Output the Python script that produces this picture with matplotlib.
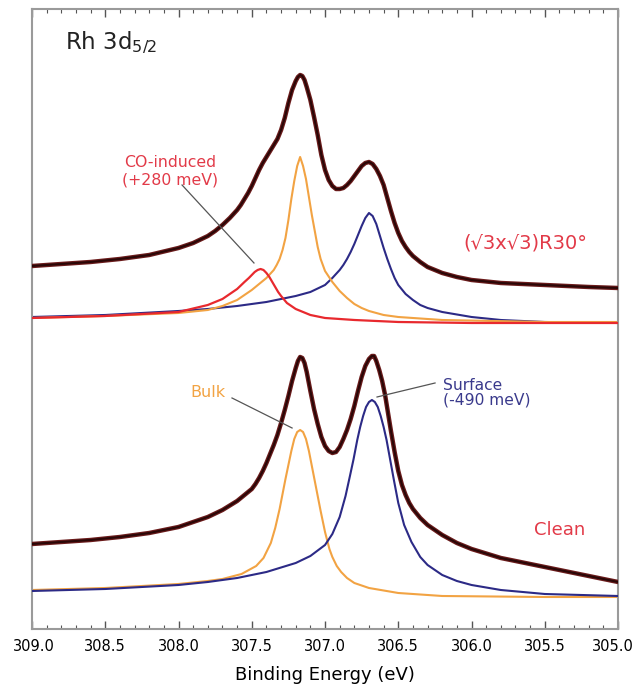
import matplotlib
matplotlib.use("Agg")
import matplotlib.pyplot as plt
import matplotlib.transforms as mtransforms
from matplotlib.ticker import MultipleLocator, FormatStrFormatter

# ---- (sqrt3 x sqrt3)R30 CO-covered surface: measured spectrum ----
co_total_E = [309.0, 308.8, 308.6, 308.4, 308.2, 308.0, 307.9, 307.8, 307.75, 307.7,
              307.65, 307.6, 307.575, 307.55, 307.525, 307.5, 307.475, 307.45, 307.425, 307.4,
              307.375, 307.35, 307.325, 307.3, 307.275, 307.25, 307.225, 307.2, 307.185, 307.17,
              307.155, 307.14, 307.125, 307.1, 307.075, 307.05, 307.025, 307.0, 306.975, 306.95,
              306.925, 306.9, 306.875, 306.85, 306.825, 306.8, 306.775, 306.75, 306.725, 306.7,
              306.675, 306.65, 306.625, 306.6, 306.575, 306.55, 306.525, 306.5, 306.475, 306.45,
              306.425, 306.4, 306.35, 306.3, 306.25, 306.2, 306.1, 306.0, 305.8, 305.5,
              305.2, 305.0]
co_total_I = [363, 365, 367, 370, 374, 381, 386, 393, 398, 404,
              411, 419, 424, 430, 436, 443, 451, 459, 466, 472,
              478, 484, 490, 499, 511, 526, 539, 548, 552, 554,
              553, 549, 542, 529, 512, 494, 474, 459, 449, 443,
              440, 440, 441, 444, 448, 453, 458, 463, 466, 467,
              465, 460, 453, 444, 431, 418, 406, 396, 388, 382,
              377, 373, 367, 362, 359, 356, 352, 349, 346, 344,
              342, 341]

# fitted components
co_bulk_E = [309.0, 308.5, 308.0, 307.8, 307.7, 307.6, 307.5, 307.45, 307.4, 307.35,
             307.33, 307.31, 307.29, 307.27, 307.25, 307.23, 307.21, 307.19, 307.17, 307.15,
             307.13, 307.11, 307.09, 307.07, 307.05, 307.03, 307.0, 306.95, 306.9, 306.85,
             306.8, 306.75, 306.7, 306.6, 306.5, 306.2, 305.5, 305.0]
co_bulk_I = [311, 313, 316, 319, 323, 329, 339, 345, 351, 359,
             364, 370, 379, 391, 409, 430, 448, 463, 472, 463,
             450, 432, 414, 398, 382, 370, 358, 347, 338, 331,
             325, 321, 318, 314, 312, 309, 307, 307]

co_surf_E = [309.0, 308.5, 308.0, 307.8, 307.6, 307.4, 307.2, 307.1, 307.0, 306.95,
             306.9, 306.875, 306.85, 306.825, 306.8, 306.775, 306.75, 306.725, 306.7, 306.675,
             306.65, 306.625, 306.6, 306.575, 306.55, 306.525, 306.5, 306.45, 306.4, 306.35,
             306.3, 306.2, 306.0, 305.8, 305.5, 305.0]
co_surf_I = [312, 314, 318, 320, 323, 327, 333, 337, 344, 351,
             359, 364, 370, 377, 385, 394, 403, 411, 416, 413,
             405, 393, 381, 370, 360, 351, 344, 335, 329, 324,
             321, 317, 312, 309, 307, 306]

co_ads_E = [309.0, 308.5, 308.0, 307.8, 307.7, 307.6, 307.55, 307.52, 307.5, 307.48,
            307.46, 307.44, 307.42, 307.4, 307.38, 307.36, 307.34, 307.32, 307.3, 307.26,
            307.2, 307.1, 307.0, 306.8, 306.5, 306.0, 305.0]
co_ads_I = [311, 313, 317, 324, 330, 340, 347, 351, 354, 357,
            359, 360, 359, 356, 352, 347, 342, 337, 333, 326,
            320, 314, 311, 309, 307, 306, 306]

# ---- clean Rh(111): measured spectrum ----
cl_total_E = [309.0, 308.8, 308.6, 308.4, 308.2, 308.0, 307.8, 307.7, 307.6, 307.55,
              307.5, 307.475, 307.45, 307.425, 307.4, 307.375, 307.35, 307.325, 307.3, 307.275,
              307.25, 307.225, 307.2, 307.185, 307.17, 307.155, 307.14, 307.125, 307.1, 307.075,
              307.05, 307.025, 307.0, 306.975, 306.95, 306.925, 306.9, 306.875, 306.85, 306.825,
              306.8, 306.775, 306.75, 306.725, 306.7, 306.68, 306.665, 306.65, 306.63, 306.61,
              306.59, 306.57, 306.55, 306.525, 306.5, 306.475, 306.45, 306.425, 306.4, 306.35,
              306.3, 306.25, 306.2, 306.1, 306.0, 305.8, 305.5, 305.2, 305.0]
cl_total_I = [85, 87, 89, 92, 96, 102, 112, 119, 128, 134,
              140, 145, 151, 158, 166, 175, 184, 194, 206, 219,
              233, 248, 261, 268, 272, 271, 266, 257, 238, 220,
              205, 192, 183, 178, 176, 177, 182, 190, 199, 210,
              223, 238, 252, 263, 270, 273, 273, 268, 259, 248,
              234, 216, 198, 177, 158, 144, 134, 126, 120, 111,
              104, 99, 94, 86, 80, 71, 62, 53, 47]

cl_bulk_E = [309.0, 308.5, 308.0, 307.8, 307.7, 307.57, 307.47, 307.42, 307.37, 307.34,
             307.31, 307.29, 307.27, 307.25, 307.23, 307.21, 307.19, 307.17, 307.15, 307.13,
             307.11, 307.09, 307.07, 307.05, 307.03, 307.0, 306.97, 306.95, 306.92, 306.89,
             306.85, 306.8, 306.7, 306.5, 306.2, 305.5, 305.0]
cl_bulk_I = [39, 41, 45, 48, 50, 55, 63, 71, 86, 101,
             120, 135, 150, 164, 178, 190, 197, 199, 197, 190,
             178, 163, 148, 133, 118, 97, 80, 72, 63, 57,
             51, 46, 41, 36, 33, 32, 32]

cl_surf_E = [309.0, 308.5, 308.0, 307.8, 307.6, 307.4, 307.2, 307.1, 307.0, 306.95,
             306.9, 306.86, 306.83, 306.805, 306.78, 306.76, 306.74, 306.72, 306.7, 306.68,
             306.66, 306.64, 306.62, 306.6, 306.58, 306.555, 306.53, 306.5, 306.46, 306.41,
             306.35, 306.3, 306.2, 306.1, 306.0, 305.8, 305.5, 305.0]
cl_surf_I = [38, 40, 44, 47, 51, 57, 66, 73, 84, 95,
             112, 133, 153, 170, 189, 202, 213, 222, 227, 229,
             227, 222, 213, 202, 189, 169, 149, 126, 104, 87,
             72, 64, 54, 48, 44, 39, 35, 33]

x_ticks = [309.0, 308.5, 308.0, 307.5, 307.0, 306.5, 306.0, 305.5, 305.0]

ORANGE = "#f2a343"
NAVY = "#2c2a86"
RED = "#e8292e"
TXT_RED = "#e23a48"
DATA_OUT = "#6a1b1b"
DATA_IN = "#2a0707"
SPINE = "#9a9a9a"

fig = plt.figure(figsize=(6.38, 6.86), dpi=100)
ax = fig.add_axes([0.0502, 0.0831, 0.9185, 0.9038])


def spectrum(E, I):
    ax.plot(E, I, color=DATA_OUT, lw=3.2, solid_joinstyle="round",
            solid_capstyle="round", zorder=4)
    ax.plot(E, I, color=DATA_IN, lw=1.5, solid_joinstyle="round", zorder=5)


# components first, data on top
ax.plot(co_surf_E, co_surf_I, color=NAVY, lw=1.5, zorder=2)
ax.plot(co_bulk_E, co_bulk_I, color=ORANGE, lw=1.5, zorder=2)
ax.plot(co_ads_E, co_ads_I, color=RED, lw=1.6, zorder=3)
spectrum(co_total_E, co_total_I)

ax.plot(cl_bulk_E, cl_bulk_I, color=ORANGE, lw=1.5, zorder=2)
ax.plot(cl_surf_E, cl_surf_I, color=NAVY, lw=1.5, zorder=3)
spectrum(cl_total_E, cl_total_I)

ax.set_xlim(309.0, 305.0)
ax.set_ylim(0, 620)
ax.set_xticks(x_ticks)
ax.xaxis.set_major_formatter(FormatStrFormatter("%.1f"))
ax.xaxis.set_minor_locator(MultipleLocator(0.1))
ax.set_yticks([])
ax.tick_params(axis="x", which="both", direction="in", top=True, bottom=True,
               color="#555555", labelsize=10.5, pad=7)
ax.tick_params(axis="x", which="major", length=6, width=1.0)
ax.tick_params(axis="x", which="minor", length=3, width=0.8)
for s in ax.spines.values():
    s.set_color(SPINE)
    s.set_linewidth(1.5)

# nudge the outermost tick labels so they stay inside the canvas
fig.canvas.draw()
labels = ax.get_xticklabels()
labels[-1].set_transform(labels[-1].get_transform()
                         + mtransforms.ScaledTranslation(-5 / 100, 0, fig.dpi_scale_trans))
labels[0].set_transform(labels[0].get_transform()
                        + mtransforms.ScaledTranslation(2 / 100, 0, fig.dpi_scale_trans))

ax.set_xlabel("Binding Energy (eV)", fontsize=13, labelpad=9)

# labels
ax.text(308.775, 586, r"Rh 3d$_{5/2}$", fontsize=16.5,
        ha="left", va="center", color="#222222")

ax.text(308.06, 458, "CO-induced\n(+280 meV)", color=TXT_RED, fontsize=11.3,
        ha="center", va="center", linespacing=1.2)
ax.plot([307.976, 307.485], [444, 366], color="#555555", lw=0.9, zorder=6)

ax.text(305.63, 386, "(\u221a3x\u221a3)R30\u00b0", color=TXT_RED, fontsize=14,
        ha="center", va="center")

ax.text(307.80, 236, "Bulk", color=ORANGE, fontsize=11.5, ha="center", va="center")
ax.plot([307.635, 307.225], [231, 201], color="#555555", lw=0.9, zorder=6)

ax.text(306.195, 236, "Surface\n(-490 meV)", color="#3a3a8c", fontsize=11.2,
        ha="left", va="center", linespacing=1.0)
ax.plot([306.249, 306.645], [246, 232], color="#555555", lw=0.9, zorder=6)

ax.text(305.40, 99, "Clean", color=TXT_RED, fontsize=13, ha="center", va="center")

fig.savefig("out.png", dpi=100)
